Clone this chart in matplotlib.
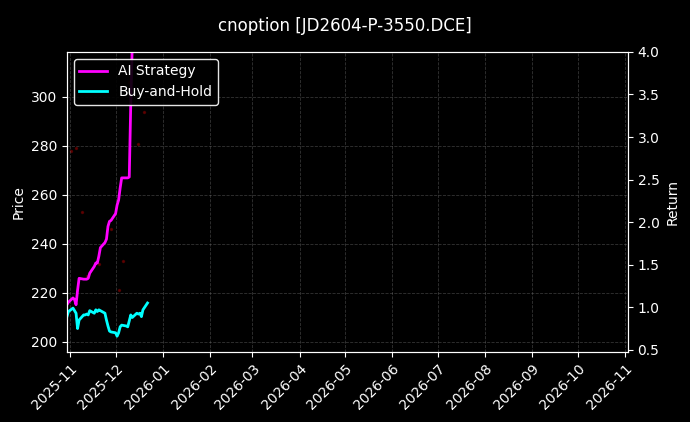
import matplotlib
matplotlib.use("Agg")
import matplotlib.pyplot as plt
import matplotlib.dates as mdates
import pandas as pd

dates = pd.bdate_range("2025-10-30", "2025-12-22")
ai_strategy = [1.03,1.06,1.11,1.09,1.03,1.20,1.34,1.33,1.33,1.33,1.34,1.40,1.48,1.52,1.52,1.60,1.70,1.76,1.80,1.95,
               2.01,2.02,2.10,2.20,2.26,2.40,2.52,2.52,2.52,2.53,3.40,4.1,4.4,4.6,4.7,4.8,4.8,4.9]
buy_hold = [0.89,0.95,0.99,0.96,0.93,0.75,0.85,0.91,0.91,0.92,0.91,0.96,0.93,0.97,0.95,0.97,0.96,0.93,0.85,0.78,
            0.72,0.71,0.70,0.66,0.70,0.77,0.79,0.78,0.77,0.84,0.91,0.88,0.93,0.92,0.93,0.89,0.97,1.05]
price_dates = pd.to_datetime(["2025-11-02","2025-11-05","2025-11-09","2025-11-12","2025-11-20","2025-11-28",
                              "2025-12-03","2025-12-06","2025-12-10","2025-12-16","2025-12-20"])
price = [278, 279, 253, 227, 232, 246, 221, 233, 306, 281, 294]

plt.style.use("dark_background")
fig = plt.figure(figsize=(6.9, 4.22), dpi=100, facecolor="black")
ax = fig.add_axes([0.097, 0.166, 0.813, 0.711], facecolor="black")
ax.scatter(price_dates, price, s=2, color="#8b0000", alpha=0.5)
ax.set_ylim(195.9, 318.4)
ax.set_ylabel("Price")
ax.grid(True, linestyle="--", color="gray", alpha=0.4, linewidth=0.6)
ax2 = ax.twinx()
l1, = ax2.plot(dates, ai_strategy, color="magenta", lw=2, label="AI Strategy")
l2, = ax2.plot(dates, buy_hold, color="cyan", lw=2, label="Buy-and-Hold")
ax2.set_ylim(0.475, 4.0)
ax2.set_ylabel("Return")
ax.set_xlim(pd.Timestamp("2025-10-30"), pd.Timestamp("2026-11-03"))
ax.xaxis.set_major_locator(mdates.MonthLocator())
ax.xaxis.set_major_formatter(mdates.DateFormatter("%Y-%m"))
plt.setp(ax.get_xticklabels(), rotation=45, ha="right", rotation_mode="anchor")
leg = ax2.legend(handles=[l1, l2], loc="upper left", facecolor="black", edgecolor="white", framealpha=0.9)
fig.suptitle("cnoption [JD2604-P-3550.DCE]", y=0.96)
fig.savefig("out.png", dpi=100, facecolor="black")
